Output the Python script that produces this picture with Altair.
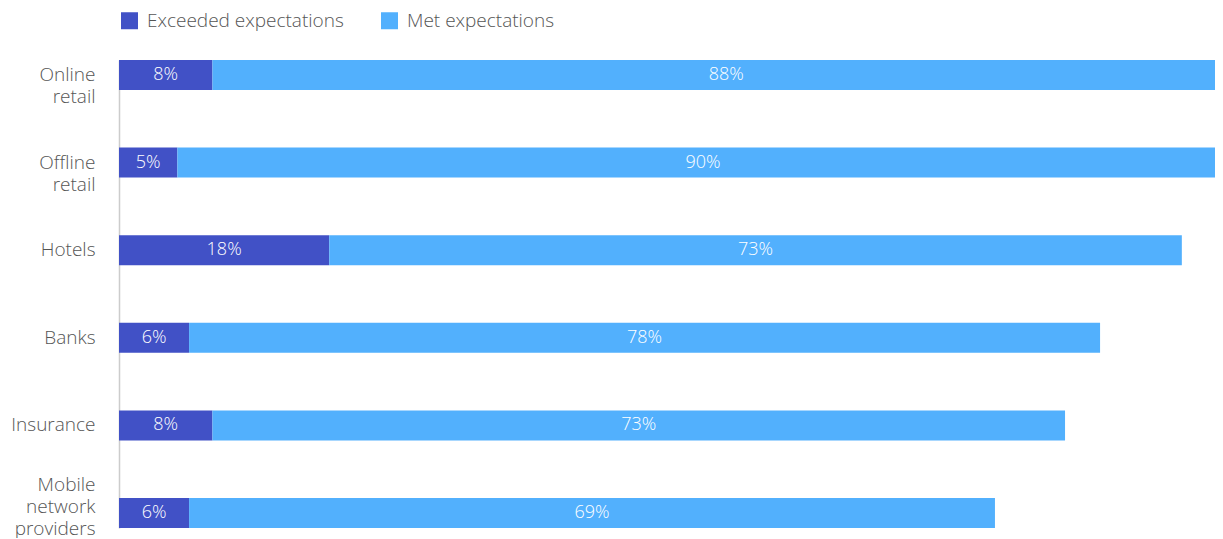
import altair as alt
import pandas as pd

categories = ["Online retail", "Offline retail", "Hotels", "Banks", "Insurance", "Mobile network providers"]
label_lines = [["Online", "retail"], ["Offline", "retail"], ["Hotels"], ["Banks"], ["Insurance"], ["Mobile", "network", "providers"]]
series = ["Exceeded expectations", "Met expectations"]
exceeded = [8, 5, 18, 6, 8, 6]
met = [88, 90, 73, 78, 73, 69]
colors = ["#4151c6", "#52b0fd"]

rows = []
for i, c in enumerate(categories):
    start = 0
    for s, vals in zip(series, [exceeded, met]):
        v = vals[i]
        rows.append({"category": c, "series": s, "value": v, "start": start, "end": start + v,
                     "mid": start + v / 2})
        start += v
df = pd.DataFrame(rows)

FONT = "Open Sans"

label_expr = " : ".join(
    [f"datum.label == '{c}' ? {lines!r}" for c, lines in zip(categories, label_lines)]
) + " : datum.label"

xscale = alt.Scale(domain=[0, 93.84], nice=False, zero=True)
yscale = alt.Scale(domain=categories, paddingOuter=0, paddingInner=0.6575)

base = alt.Chart(df)

bars = base.mark_bar(clip=True).encode(
    x=alt.X("start:Q", scale=xscale, axis=None),
    x2="end:Q",
    y=alt.Y("category:N", scale=yscale, sort=categories,
            axis=alt.Axis(title=None, ticks=False, domainColor="#cccccc", domainWidth=1.5,
                          labelFont=FONT, labelFontSize=19, labelColor="#555555",
                          labelPadding=24, labelLineHeight=22, labelExpr=label_expr,
                          labelFontWeight=300, labelLimit=300,
                          labelOffset={"condition": {"test": "datum.value == 'Mobile network providers'",
                                                     "value": -28}, "value": 0})),
    color=alt.Color("series:N", scale=alt.Scale(domain=series, range=colors),
                    legend=alt.Legend(title=None, orient="none", legendX=1, legendY=-49,
                                      direction="horizontal", symbolType="square",
                                      symbolSize=289, symbolStrokeWidth=0, symbolOpacity=1,
                                      labelFont=FONT, labelFontSize=19, labelColor="#555555",
                                      labelFontWeight=300, labelOffset=8, columnPadding=36,
                                      labelLimit=400, padding=0)),
)

texts = base.mark_text(color="white", font=FONT, fontSize=18, fontWeight=300, clip=True).encode(
    x=alt.X("mid:Q", scale=xscale),
    y=alt.Y("category:N", scale=yscale, sort=categories),
    text=alt.Text("label:N"),
).transform_calculate(label="datum.value + '%'")

chart = alt.layer(bars, texts).properties(
    width=1096, height=468,
    padding={"left": 111, "top": 52, "right": 0, "bottom": 10},
    autosize=alt.AutoSizeParams(type="none"),
).configure_view(stroke=None)

chart.save("out.html", embed_options={"renderer": "svg", "actions": False})
